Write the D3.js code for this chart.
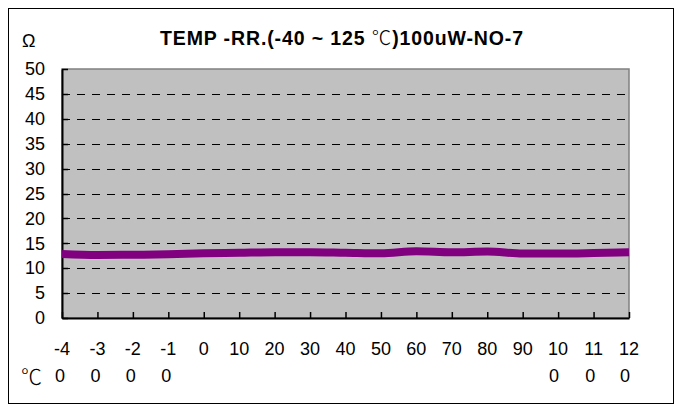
<!DOCTYPE html>
<html>
<head>
<meta charset="utf-8">
<script src="https://cdn.jsdelivr.net/npm/d3@7/dist/d3.min.js"></script>
<style>
html,body{margin:0;padding:0;background:#fff;}
svg{display:block;font-family:"Liberation Sans",Arial,sans-serif;}
</style>
</head>
<body>
<svg id="chart" width="691" height="405"></svg>
<script>
// ---- data ----
const categories = ["-40","-30","-20","-10","0","10","20","30","40","50","60","70","80","90","100","110","120"];
const resistance = [12.85,12.65,12.7,12.8,13.0,13.1,13.2,13.2,13.1,13.0,13.4,13.2,13.35,12.95,12.95,13.05,13.2];
const yTicks = [0,5,10,15,20,25,30,35,40,45,50];
const titleParts = ["TEMP -RR.(-40 ~ 125 ", "℃", ")100uW-NO-7"];
const yUnit = "Ω";
const xUnit = "℃";

const svg = d3.select("#chart");
const plot = {l: 62, r: 629, t: 69, b: 318};

// outer frame
svg.append("rect").attr("x", 8.5).attr("y", 8.5).attr("width", 665).attr("height", 395)
  .attr("fill", "#fff").attr("stroke", "#000").attr("stroke-width", 1);

const x = d3.scalePoint().domain(categories).range([plot.l, plot.r]);
const y = d3.scaleLinear().domain([0, 50]).range([plot.b, plot.t]);

// plot background
svg.append("rect").attr("x", plot.l).attr("y", plot.t)
  .attr("width", plot.r - plot.l).attr("height", plot.b - plot.t)
  .attr("fill", "#C0C0C0").attr("stroke", "#808080").attr("stroke-width", 1.5);

// gridlines
svg.append("g").selectAll("line").data(yTicks.filter(d => d > 0 && d < 50)).join("line")
  .attr("x1", plot.l).attr("x2", plot.r)
  .attr("y1", d => Math.round(y(d)) + 0.5).attr("y2", d => Math.round(y(d)) + 0.5)
  .attr("stroke", "#000").attr("stroke-width", 1).attr("stroke-dasharray", "8,7");

// y axis
const yAxis = svg.append("g").attr("transform", `translate(${plot.l},0)`)
  .call(d3.axisLeft(y).tickValues(yTicks).tickSize(0).tickPadding(17));
yAxis.select(".domain").attr("stroke", "#000").attr("stroke-width", 2);
yAxis.selectAll("text").attr("font-size", 18).attr("fill", "#000")
  .attr("font-family", "Liberation Sans, Arial, sans-serif");
// inside ticks on y axis
svg.append("g").selectAll("line").data(yTicks).join("line")
  .attr("x1", plot.l).attr("x2", plot.l + 6)
  .attr("y1", d => Math.round(y(d)) + 0.5).attr("y2", d => Math.round(y(d)) + 0.5)
  .attr("stroke", "#000").attr("stroke-width", 1.5);

// x axis
const xAxis = svg.append("g").attr("transform", `translate(0,${plot.b})`)
  .call(d3.axisBottom(x).tickSize(-6).tickSizeOuter(0).tickFormat(""));
xAxis.select(".domain").attr("stroke", "#000").attr("stroke-width", 2);
xAxis.selectAll(".tick line").attr("stroke", "#000").attr("stroke-width", 1.5);

// x labels, wrapped at two characters per line
const xl = svg.append("g").selectAll("text").data(categories).join("text")
  .attr("font-size", 18).attr("fill", "#000");
xl.each(function(d) {
  const t = d3.select(this);
  const lines = [];
  for (let i = 0; i < d.length; i += 2) lines.push(d.slice(i, i + 2));
  const first = t.append("tspan").text(lines[0]).attr("x", 0).attr("y", 355);
  const w = first.node().getComputedTextLength();
  const x0 = x(d) - w / 2;
  first.attr("x", x0);
  for (let i = 1; i < lines.length; i++) {
    t.append("tspan").text(lines[i]).attr("x", x0 + 1).attr("y", 355 + 27 * i);
  }
});

// line
svg.append("path").datum(resistance)
  .attr("fill", "none").attr("stroke", "#800080").attr("stroke-width", 8)
  .attr("stroke-linejoin", "round")
  .attr("d", d3.line().x((d, i) => x(categories[i])).y(d => y(d)).curve(d3.curveMonotoneX));

// title
const title = svg.append("text").attr("x", 160).attr("y", 45)
  .attr("font-size", 19.5).attr("font-weight", "bold").attr("fill", "#000")
  .attr("textLength", 363).attr("lengthAdjust", "spacing");
titleParts.forEach((p, i) => {
  const ts = title.append("tspan").text(p);
  if (p === "℃") ts.attr("font-family", "Noto Sans CJK SC").attr("font-weight", 300);
});

// units
svg.append("text").attr("x", 22).attr("y", 47).attr("font-size", 18).attr("fill", "#000").text(yUnit);
svg.append("text").attr("x", 21).attr("y", 384).attr("font-size", 21).attr("fill", "#000")
  .attr("font-family", "Noto Sans CJK SC").attr("font-weight", 300).text(xUnit);
</script>
</body>
</html>
